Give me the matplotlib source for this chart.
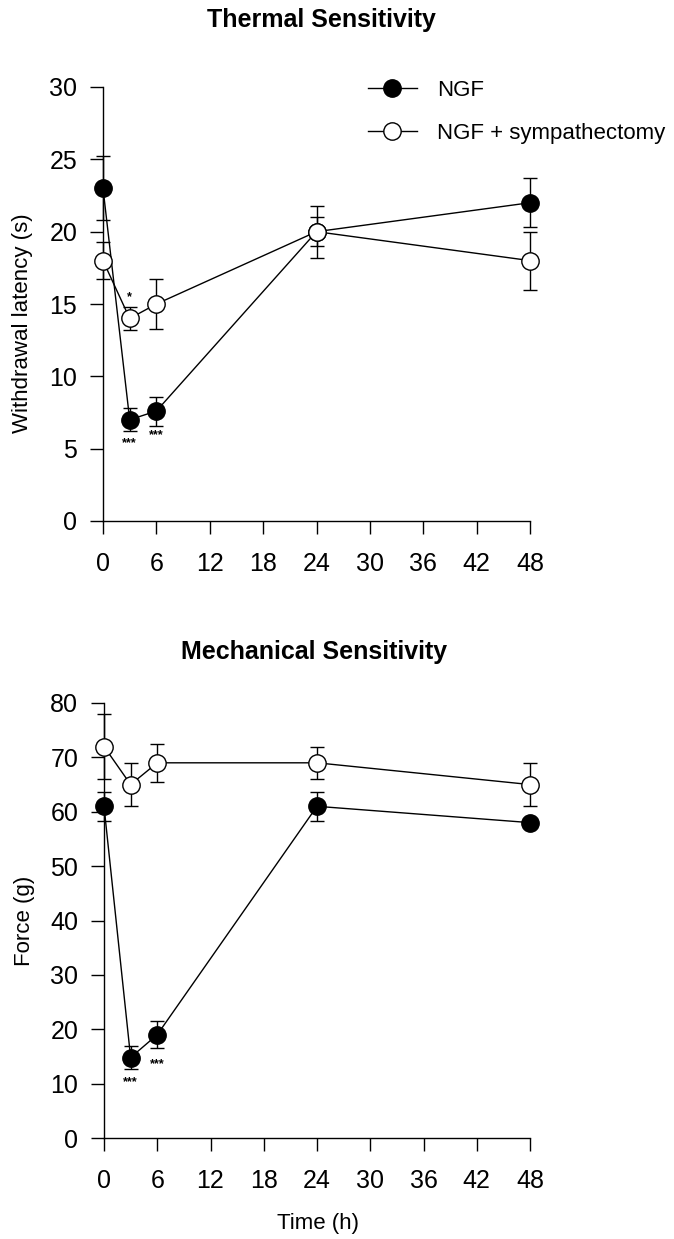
import matplotlib
matplotlib.use("Agg")
import matplotlib.pyplot as plt
from matplotlib.lines import Line2D

plt.rcParams['font.family'] = ['Liberation Sans', 'DejaVu Sans']

# time points (h)
hours = [0, 3, 6, 24, 48]
xticks = [0, 6, 12, 18, 24, 30, 36, 42, 48]

# thermal sensitivity, withdrawal latency (s)
thermal_ngf = [23, 7, 7.6, 20, 22]
thermal_ngf_err = [2.2, 0.8, 1.0, 1.8, 1.7]
thermal_sym = [18, 14, 15, 20, 18]
thermal_sym_err = [1.3, 0.8, 1.7, 1.0, 2.0]

# mechanical sensitivity, force (g)
mech_ngf = [61, 14.8, 19, 61, 58]
mech_ngf_err = [2.7, 2.2, 2.5, 2.7, 0.0]
mech_sym = [72, 65, 69, 69, 65]
mech_sym_err = [6.0, 4.0, 3.5, 3.0, 4.0]

# significance marks: (x, y, text)
thermal_marks = [(3, 5.4, '***'), (6, 5.9, '***'), (3, 15.5, '*')]
mech_marks = [(3, 10.2, '***'), (6, 13.6, '***')]

W, H = 674, 1239
fig = plt.figure(figsize=(W / 100, H / 100), dpi=100)


def px_axes(left, right, top, bottom):
    return fig.add_axes([left / W, 1 - bottom / H, (right - left) / W, (bottom - top) / H])


def draw_panel(ax, ngf, ngf_err, sym, sym_err, ymax, ystep, marks):
    ax.errorbar(hours, ngf, yerr=ngf_err, color='black', lw=1.0, elinewidth=1.0,
                capsize=4.7, capthick=1.0, marker='o', ms=12.5, mfc='black',
                mec='black', zorder=3, clip_on=False)
    ax.errorbar(hours, sym, yerr=sym_err, color='black', lw=1.0, elinewidth=1.0,
                capsize=4.7, capthick=1.0, marker='o', ms=12.5, mfc='white',
                mec='black', mew=1.0, zorder=4, clip_on=False)
    for x, y, s in marks:
        ax.text(x, y, s, ha='center', va='center', fontsize=9, fontweight='bold')
    ax.set_xlim(0, 48)
    ax.set_ylim(0, ymax)
    ax.set_xticks(xticks)
    ax.set_yticks(range(0, ymax + 1, ystep))
    for side in ['top', 'right']:
        ax.spines[side].set_visible(False)
    for side in ['left', 'bottom']:
        ax.spines[side].set_linewidth(1.0)
    ax.tick_params(axis='both', direction='out', length=9.5, width=1.0, labelsize=18)
    ax.tick_params(axis='y', pad=9)
    ax.tick_params(axis='x', pad=13)


ax1 = px_axes(103, 530, 87, 521)
draw_panel(ax1, thermal_ngf, thermal_ngf_err, thermal_sym, thermal_sym_err, 30, 5, thermal_marks)

ax2 = px_axes(104, 530, 703, 1138)
draw_panel(ax2, mech_ngf, mech_ngf_err, mech_sym, mech_sym_err, 80, 10, mech_marks)

# legend
handles = [
    Line2D([], [], color='black', lw=1.0, marker='o', ms=12.5, mfc='black', mec='black'),
    Line2D([], [], color='black', lw=1.0, marker='o', ms=12.5, mfc='white', mec='black'),
]
ax1.legend(handles, ['NGF', 'NGF + sympathectomy'], loc='upper left',
           bbox_to_anchor=(368 / W, 1 - 80 / H), bbox_transform=fig.transFigure,
           frameon=False, fontsize=16, handlelength=2.2, handletextpad=0.9,
           labelspacing=1.0, borderpad=0, borderaxespad=0, numpoints=1)

# titles and axis labels
fig.text(321 / W, 1 - 20 / H, 'Thermal Sensitivity', ha='center', va='center',
         fontsize=18, fontweight='bold')
fig.text(314 / W, 1 - 652 / H, 'Mechanical Sensitivity', ha='center', va='center',
         fontsize=18, fontweight='bold')
fig.text(23 / W, 1 - 323 / H, 'Withdrawal latency (s)', ha='center', va='center',
         rotation=90, fontsize=16)
fig.text(25 / W, 1 - 921 / H, 'Force (g)', ha='center', va='center',
         rotation=90, fontsize=16)
fig.text(318 / W, 1 - 1223 / H, 'Time (h)', ha='center', va='center', fontsize=16)

fig.savefig('out.png', dpi=100)
